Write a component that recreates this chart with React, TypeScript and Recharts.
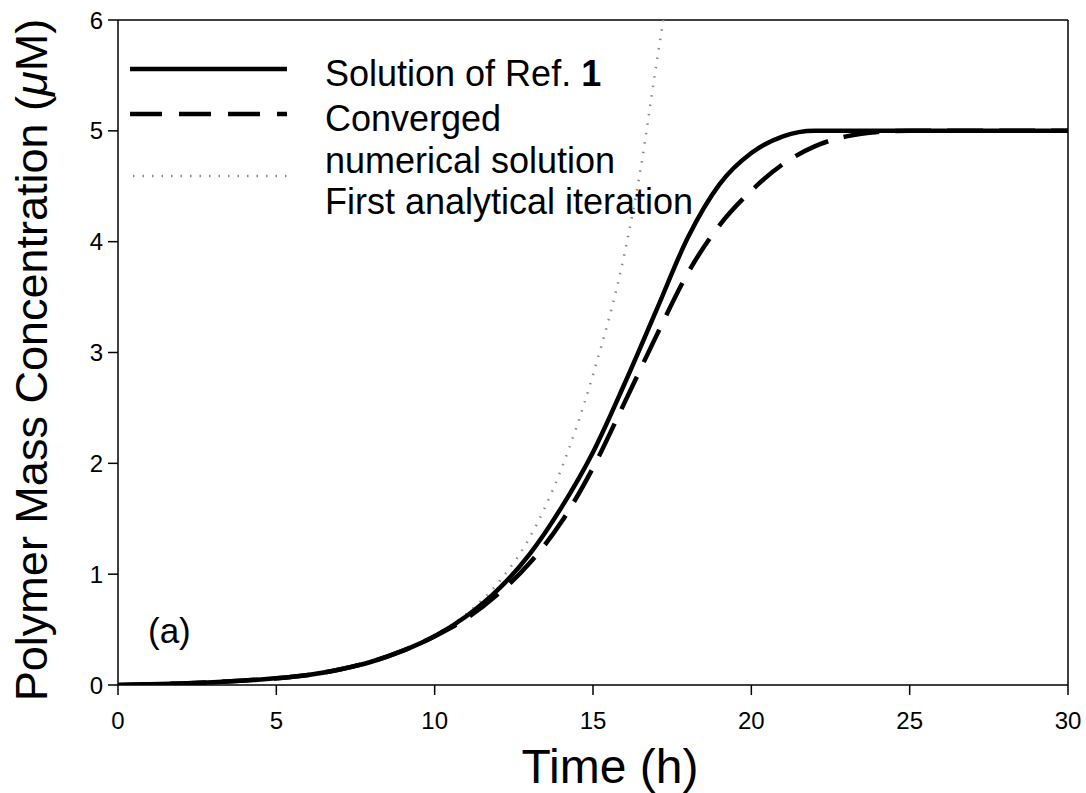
import React from "react";
import { LineChart, Line, XAxis, YAxis, ReferenceLine, Label } from "recharts";

const timeRef = [0, 1, 2, 3, 4, 5, 6, 7, 8, 9, 10, 11, 12, 13, 14, 15, 16, 17, 18, 19, 20, 21, 22, 23, 24, 25, 26, 27, 28, 29, 30];
const ref1Values = [0, 0.006, 0.014, 0.025, 0.04, 0.06, 0.09, 0.14, 0.21, 0.31, 0.44, 0.62, 0.86, 1.18, 1.6, 2.1, 2.72, 3.38, 4.04, 4.52, 4.8, 4.95, 5.0, 5.0, 5.0, 5.0, 5.0, 5.0, 5.0, 5.0, 5.0];
const numericalValues = [0, 0.006, 0.014, 0.025, 0.04, 0.06, 0.09, 0.14, 0.21, 0.31, 0.44, 0.6, 0.82, 1.1, 1.47, 1.96, 2.55, 3.15, 3.72, 4.15, 4.46, 4.7, 4.86, 4.95, 4.99, 5.0, 5.0, 5.0, 5.0, 5.0, 5.0];
const firstIterTime = [0, 1, 2, 3, 4, 5, 6, 7, 8, 9, 10, 11, 12, 13, 14, 15, 16, 16.5, 17, 17.25];
const firstIterValues = [0, 0.006, 0.014, 0.025, 0.04, 0.06, 0.09, 0.14, 0.21, 0.31, 0.45, 0.64, 0.92, 1.33, 1.95, 2.8, 3.9, 4.65, 5.6, 6.05];

const xTicks = [0, 5, 10, 15, 20, 25, 30];
const yTicks = [0, 1, 2, 3, 4, 5, 6];

const ref1Data = timeRef.map((t, i) => ({ t, c: ref1Values[i] }));
const numericalData = timeRef.map((t, i) => ({ t, c: numericalValues[i] }));
const firstIterData = firstIterTime.map((t, i) => ({ t, c: firstIterValues[i] }));

const FONT = "'Liberation Sans', Arial, sans-serif";

const YTitle = () => (
  <text
    x={47}
    y={360}
    transform="rotate(-90, 47, 360)"
    textAnchor="middle"
    fontFamily={FONT}
    fontSize={45}
    fill="#000"
  >
    Polymer Mass Concentration (<tspan fontStyle="italic">μ</tspan>M)
  </text>
);

const XTitle = () => (
  <text x={610} y={783} textAnchor="middle" fontFamily={FONT} fontSize={48} fill="#000">
    Time (h)
  </text>
);

const Overlay = () => (
  <g fontFamily={FONT} fill="#000">
    <text x={148} y={643} fontSize={35}>(a)</text>
    <line x1={130} y1={69} x2={287} y2={69} stroke="#000" strokeWidth={4.5} />
    <line x1={130} y1={114} x2={287} y2={114} stroke="#000" strokeWidth={4.5} strokeDasharray="32 17" />
    <line x1={133} y1={176} x2={287} y2={176} stroke="#8a8a8a" strokeWidth={2.5} strokeDasharray="1.5 8" />
    <text x={325} y={86} fontSize={36}>
      Solution of Ref. <tspan fontWeight="bold">1</tspan>
    </text>
    <text x={325} y={131} fontSize={36}>Converged</text>
    <text x={325} y={173} fontSize={36}>numerical solution</text>
    <text x={325} y={214} fontSize={36}>First analytical iteration</text>
  </g>
);

export default function App() {
  return (
    <div style={{ position: "absolute", left: 0, top: 0, width: 1086, height: 793, background: "#fff" }}>
      <LineChart width={1086} height={793} margin={{ top: 20, right: 18, bottom: 0, left: 0 }}>
        <XAxis
          dataKey="t"
          type="number"
          domain={[0, 30]}
          ticks={xTicks}
          allowDuplicatedCategory={false}
          axisLine={{ stroke: "#000", strokeWidth: 1.5 }}
          tickLine={{ stroke: "#000", strokeWidth: 1.5 }}
          tickSize={10}
          tickMargin={17}
          tick={{ fill: "#000", fontSize: 24, fontFamily: FONT }}
          height={108}
        >
          <Label content={<XTitle />} />
        </XAxis>
        <YAxis
          type="number"
          domain={[0, 6]}
          ticks={yTicks}
          allowDataOverflow
          axisLine={{ stroke: "#000", strokeWidth: 1.5 }}
          tickLine={{ stroke: "#000", strokeWidth: 1.5 }}
          tickSize={10}
          tickMargin={5}
          tick={{ fill: "#000", fontSize: 24, fontFamily: FONT }}
          width={118}
        >
          <Label content={<YTitle />} />
        </YAxis>
        <ReferenceLine y={6} stroke="#000" strokeWidth={1.5} />
        <ReferenceLine x={30} stroke="#000" strokeWidth={1.5} />
        <Line
          data={firstIterData}
          dataKey="c"
          type="monotone"
          stroke="#8a8a8a"
          strokeWidth={2.5}
          strokeDasharray="1.5 8"
          dot={false}
          isAnimationActive={false}
        />
        <Line
          data={numericalData}
          dataKey="c"
          type="monotone"
          stroke="#000"
          strokeWidth={4.5}
          strokeDasharray="36 16"
          dot={false}
          isAnimationActive={false}
        />
        <Line
          data={ref1Data}
          dataKey="c"
          type="monotone"
          stroke="#000"
          strokeWidth={4.5}
          dot={false}
          isAnimationActive={false}
        />
        <Label content={<Overlay />} />
      </LineChart>
    </div>
  );
}
